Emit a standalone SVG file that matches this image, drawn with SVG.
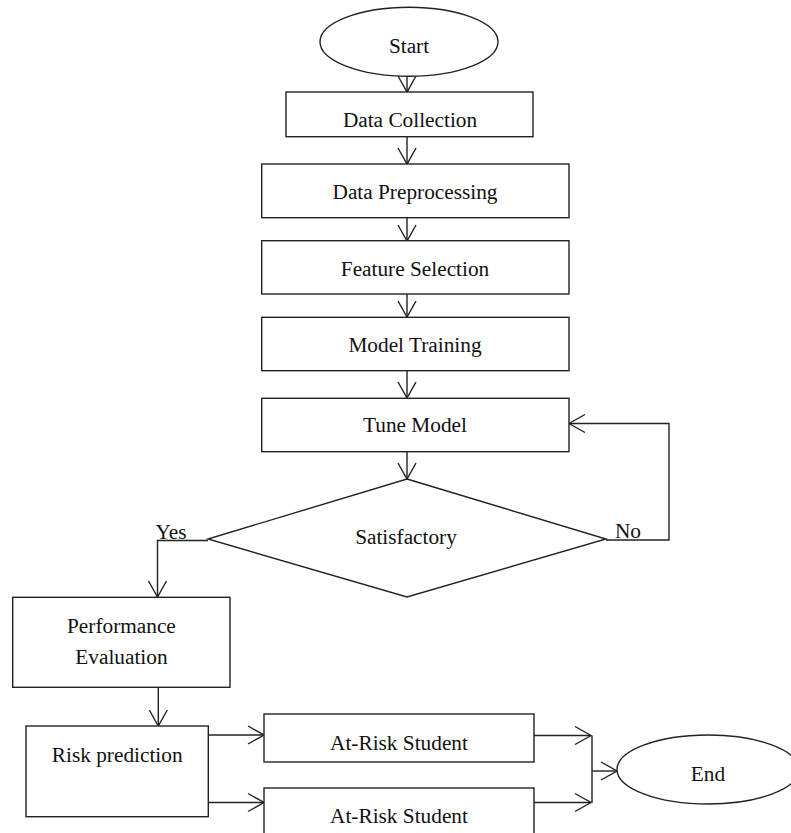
<svg xmlns="http://www.w3.org/2000/svg" width="791" height="833" viewBox="0 0 791 833">
<style>
.s{fill:#fff;stroke:#222;stroke-width:1.4}
.t{font-family:"Liberation Serif","Times New Roman",serif;font-size:21.3px;fill:#111;text-anchor:middle}
.c{fill:none;stroke:#222;stroke-width:1.4}
.a{marker-end:url(#ah)}
</style>
<defs>
<marker id="ah" markerUnits="userSpaceOnUse" viewBox="-17 -11 19 22" markerWidth="19" markerHeight="22" refX="0" refY="0" orient="auto" overflow="visible">
<path d="M-16,-9 L0,0 L-16,9" fill="none" stroke="#222" stroke-width="1.4"/>
</marker>
</defs>
<rect width="791" height="833" fill="#fff"/>
<g id="connectors">
<path class="c a" d="M407,76 V92"/>
<path class="c a" d="M407,137 V164"/>
<path class="c a" d="M407,218 V241"/>
<path class="c a" d="M407,294 V317"/>
<path class="c a" d="M407,371 V398"/>
<path class="c a" d="M407,452 V479"/>
<path class="c a" d="M208,540.5 H157.5 V597"/>
<path class="c a" d="M606,540 H669 V423.5 H569"/>
<path class="c a" d="M158.3,687 V726"/>
<path class="c a" d="M208,735 H264"/>
<path class="c a" d="M208,802.5 H264"/>
<path class="c a" d="M534,735.5 H591"/>
<path class="c a" d="M534,802.5 H591"/>
<path class="c" d="M592,735.5 V803"/>
<path class="c a" d="M592,771 H617"/>
<text class="t" x="171" y="539" text-anchor="middle">Yes</text>
<text class="t" x="628" y="538">No</text>
</g>
<g id="start">
<ellipse class="s" cx="409" cy="41.7" rx="89" ry="34.5"/>
<text class="t" x="409" y="52.5">Start</text>
</g>
<g id="data-collection">
<rect class="s" x="286" y="92" width="247" height="44.7"/>
<text class="t" x="410" y="127">Data Collection</text>
</g>
<g id="data-preprocessing">
<rect class="s" x="261.7" y="164" width="307.3" height="53.7"/>
<text class="t" x="415" y="198.5">Data Preprocessing</text>
</g>
<g id="feature-selection">
<rect class="s" x="261.7" y="240.7" width="307.3" height="53.3"/>
<text class="t" x="415" y="275.5">Feature Selection</text>
</g>
<g id="model-training">
<rect class="s" x="261.7" y="317.3" width="307.3" height="53.4"/>
<text class="t" x="415" y="351.7">Model Training</text>
</g>
<g id="tune-model">
<rect class="s" x="261.7" y="398.3" width="307.3" height="53.4"/>
<text class="t" x="415" y="431.7">Tune Model</text>
</g>
<g id="satisfactory">
<polygon class="s" points="407,479 606,539 407,597 208,539"/>
<text class="t" x="406" y="544">Satisfactory</text>
</g>
<g id="performance-evaluation">
<rect class="s" x="12.7" y="597.3" width="217.3" height="90"/>
<text class="t" x="121.4" y="633.3">Performance</text>
<text class="t" x="121.4" y="664">Evaluation</text>
</g>
<g id="risk-prediction">
<rect class="s" x="26" y="726" width="182.3" height="90.7"/>
<text class="t" x="117.2" y="761.7">Risk prediction</text>
</g>
<g id="at-risk-1">
<rect class="s" x="264" y="714" width="270" height="48"/>
<text class="t" x="399" y="750">At-Risk Student</text>
</g>
<g id="at-risk-2">
<rect class="s" x="264" y="788" width="270" height="48"/>
<text class="t" x="399" y="823">At-Risk Student</text>
</g>
<g id="end">
<ellipse class="s" cx="708" cy="769.5" rx="91" ry="34.5"/>
<text class="t" x="708" y="781">End</text>
</g>
</svg>
